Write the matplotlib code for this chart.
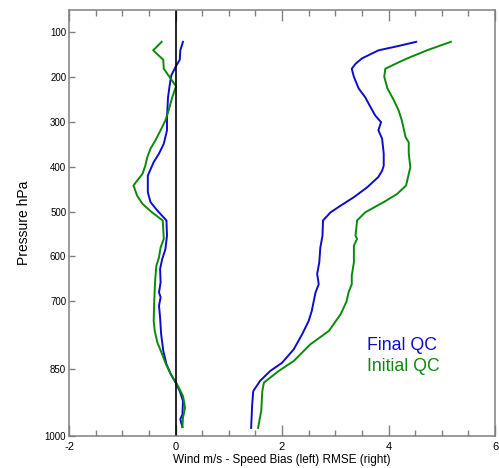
import numpy as np
import matplotlib
matplotlib.use('Agg')
import matplotlib.pyplot as plt
from matplotlib.ticker import MultipleLocator

plt.rcParams['font.family'] = ['Liberation Sans', 'DejaVu Sans']
plt.rcParams['axes.unicode_minus'] = False

# speed bias profiles (m/s) against pressure (hPa)
bias_final_p = [122, 141, 162, 178, 197, 219, 245, 290, 319, 349, 371, 390, 409, 420, 457, 479, 498,
                520, 554, 584, 606, 628, 658, 680, 691, 710, 736, 773, 810, 840, 862, 881, 900, 922,
                952, 963, 980]
bias_final = [0.14, 0.09, 0.08, 0.0, -0.08, -0.11, -0.14, -0.16, -0.16, -0.22, -0.31, -0.41, -0.48,
              -0.52, -0.52, -0.47, -0.34, -0.17, -0.16, -0.19, -0.25, -0.29, -0.28, -0.31, -0.28,
              -0.31, -0.29, -0.27, -0.23, -0.17, -0.09, 0.0, 0.08, 0.14, 0.13, 0.09, 0.13]

bias_init_p = [122, 141, 162, 182, 204, 221, 245, 275, 297, 319, 342, 360, 379, 399, 416, 442, 465,
               483, 502, 520, 561, 580, 602, 621, 650, 673, 701, 744, 766, 792, 818, 837, 862, 885,
               911, 937, 959, 980]
bias_init = [-0.26, -0.42, -0.23, -0.22, -0.09, 0.01, -0.06, -0.13, -0.19, -0.28, -0.38, -0.47,
             -0.53, -0.57, -0.62, -0.79, -0.72, -0.62, -0.44, -0.24, -0.22, -0.28, -0.31, -0.36,
             -0.38, -0.39, -0.40, -0.41, -0.39, -0.34, -0.25, -0.19, -0.09, 0.03, 0.14, 0.18,
             0.14, 0.13]

# RMSE profiles (m/s)
rmse_final_p = [122, 132, 141, 159, 171, 182, 200, 226, 245, 267, 286, 301, 319, 338, 371, 398, 409,
                423, 446, 468, 487, 502, 520, 554, 580, 613, 639, 662, 680, 703, 721, 744, 773, 807,
                837, 855, 877, 900, 930, 982]
rmse_final = [4.52, 4.16, 3.81, 3.50, 3.38, 3.31, 3.35, 3.44, 3.56, 3.66, 3.75, 3.86, 3.81, 3.88,
              3.91, 3.91, 3.88, 3.81, 3.60, 3.35, 3.10, 2.91, 2.77, 2.76, 2.72, 2.70, 2.66, 2.69,
              2.63, 2.59, 2.56, 2.50, 2.38, 2.22, 2.00, 1.78, 1.59, 1.46, 1.44, 1.42]

rmse_init_p = [122, 141, 159, 171, 182, 200, 226, 252, 275, 297, 334, 346, 371, 401, 442, 461, 479,
               502, 520, 554, 561, 576, 613, 643, 662, 680, 701, 729, 766, 796, 833, 855, 881, 900,
               944, 982]
rmse_init = [5.17, 4.72, 4.35, 4.13, 3.94, 3.92, 3.98, 4.10, 4.19, 4.25, 4.32, 4.38, 4.38, 4.41,
             4.33, 4.16, 3.91, 3.56, 3.41, 3.38, 3.41, 3.35, 3.35, 3.31, 3.31, 3.25, 3.21, 3.10,
             2.88, 2.53, 2.22, 1.94, 1.66, 1.63, 1.61, 1.55]

p_ticks = [100, 200, 300, 400, 500, 600, 700, 850, 1000]
c_final = '#0c0ccf'
c_init = '#0a8a0a'

fig = plt.figure(figsize=(4.99, 4.68), dpi=100)
ax = fig.add_axes([0.1383, 0.0684, 0.8537, 0.9113])

ax.plot(bias_final, bias_final_p, color=c_final, lw=1.4)
ax.plot(bias_init, bias_init_p, color=c_init, lw=1.4)
ax.plot(rmse_final, rmse_final_p, color=c_final, lw=1.4)
ax.plot(rmse_init, rmse_init_p, color=c_init, lw=1.4)
ax.axvline(0, color='black', lw=1.2)

ax.set_xlim(-2, 6)
ax.set_ylim(1000, 50)
ax.set_yticks(p_ticks)
ax.set_yticklabels([str(p) for p in p_ticks], fontsize=7)
ax.xaxis.set_major_locator(MultipleLocator(2))
ax.xaxis.set_minor_locator(MultipleLocator(0.5))
ax.tick_params(axis='x', which='major', direction='in', length=8, width=1, color='#808080',
               top=True, labelsize=8, pad=4)
ax.tick_params(axis='x', which='minor', direction='in', length=4, width=1, color='#808080', top=True)
ax.tick_params(axis='y', which='major', direction='in', length=4, width=1, color='#808080', pad=2)
for s in ax.spines.values():
    s.set_color('#808080')
    s.set_linewidth(1.1)

ax.set_xlabel('Wind m/s - Speed Bias (left) RMSE (right)', fontsize=8.5, labelpad=2)
ax.set_ylabel('Pressure hPa', fontsize=10, labelpad=10)

ax.text(3.6, 799, 'Final QC', color=c_final, fontsize=12.8, va='center')
ax.text(3.6, 846, 'Initial QC', color=c_init, fontsize=12.8, va='center')

plt.savefig('out.png', dpi=100)
